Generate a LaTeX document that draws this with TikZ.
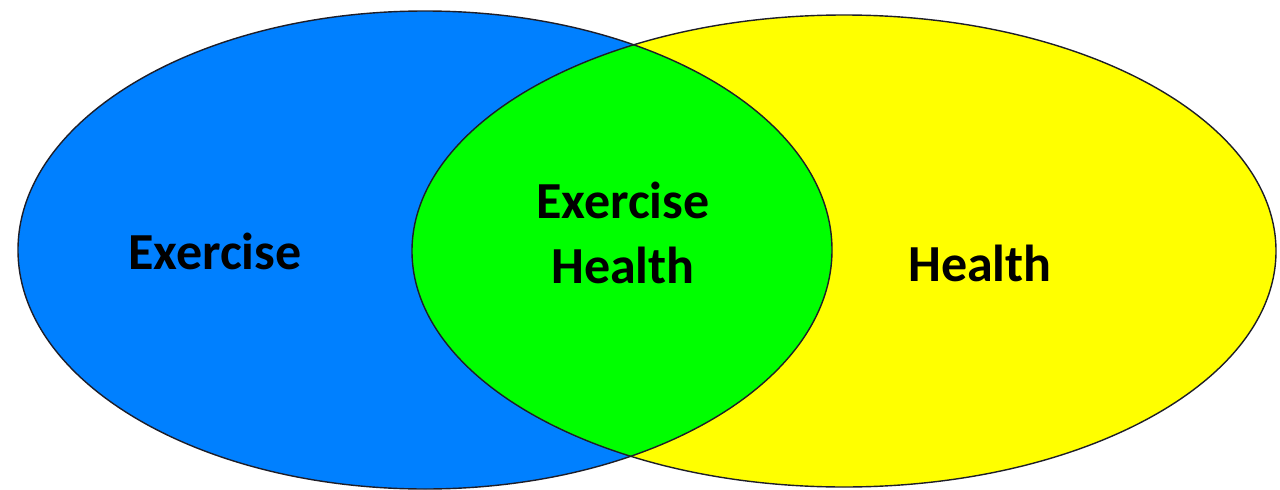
\documentclass[tikz,border=0pt]{standalone}
\usepackage{fontspec}
\setmainfont{Carlito}
\definecolor{setblue}{RGB}{0,128,255}
\definecolor{setgreen}{RGB}{0,255,0}
\definecolor{setyellow}{RGB}{255,255,0}
\definecolor{edge}{RGB}{30,30,40}
\tikzset{
  label/.style={font=\fontsize{52}{65}\selectfont\bfseries, text=black, align=center, inner sep=0pt},
  outline/.style={draw=edge, line width=1.4pt}
}
\begin{document}
\begin{tikzpicture}[x=1pt,y=-1pt]
\fill[white] (0,0) rectangle (1280,490);
\useasboundingbox (0,0) rectangle (1280,490);
\clip (0,0) rectangle (1280,490);
% left set
\fill[setblue] (425,250) ellipse [x radius=407, y radius=239];
% right set
\fill[setyellow] (844,251) ellipse [x radius=432, y radius=236];
% intersection
\begin{scope}
  \clip (425,250) ellipse [x radius=407, y radius=239];
  \fill[setgreen] (844,251) ellipse [x radius=432, y radius=236];
\end{scope}
\draw[outline] (425,250) ellipse [x radius=407, y radius=239];
\draw[outline] (844,251) ellipse [x radius=432, y radius=236];
\node[label] (ex) at (215,251) {Exercise};
\node[label] (both) at (623,233) {Exercise\\Health};
\node[label] (he) at (980,263) {Health};
\end{tikzpicture}
\end{document}
